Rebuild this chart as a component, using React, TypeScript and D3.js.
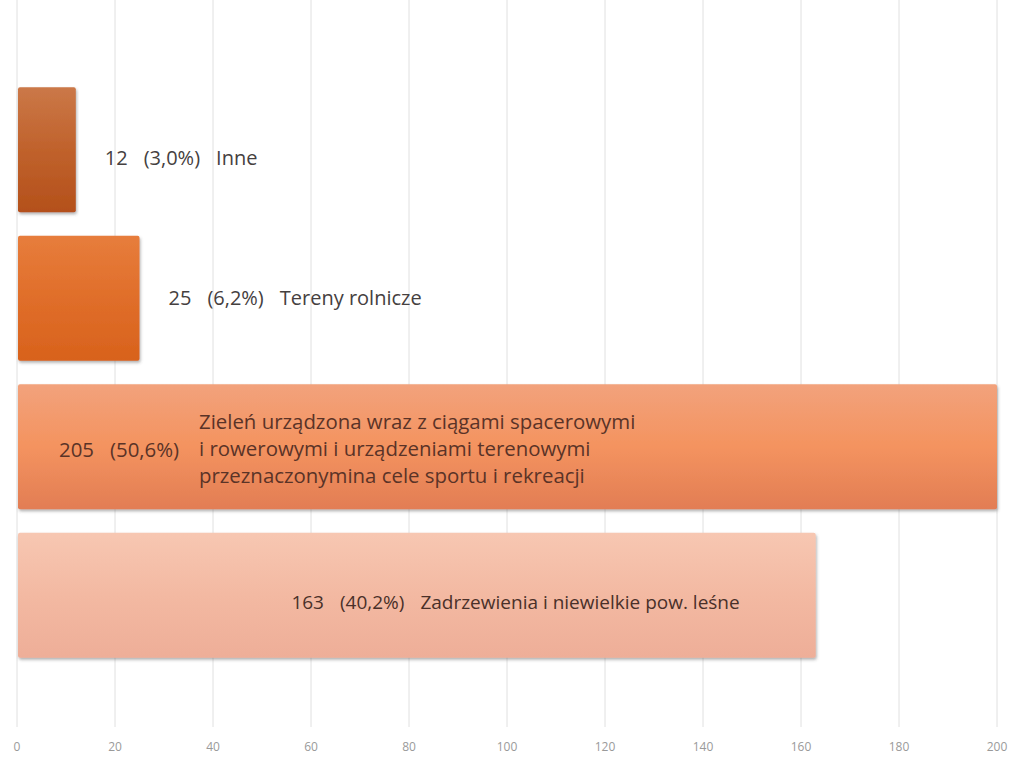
import React from "react";
import * as d3 from "d3";

const categories = ["Inne", "Tereny rolnicze", "Zieleń urządzona", "Zadrzewienia"];
const values = [12, 25, 205, 163];
const percents = ["(3,0%)", "(6,2%)", "(50,6%)", "(40,2%)"];
const labelLines = [
  ["Inne"],
  ["Tereny rolnicze"],
  [
    "Zieleń urządzona wraz z ciągami spacerowymi",
    "i rowerowymi i urządzeniami terenowymi",
    "przeznaczonymina cele sportu i rekreacji",
  ],
  ["Zadrzewienia i niewielkie pow. leśne"],
];
const xTicks = [0, 20, 40, 60, 80, 100, 120, 140, 160, 180, 200];

const gradTop = ["#cb7848", "#e77d3c", "#f2a27c", "#f7c7b2"];
const gradMid = ["#c0622c", "#e06e2a", "#f4935f", "#f3b9a2"];
const gradBot = ["#b4501b", "#d8621c", "#e27d54", "#eeae98"];
const textColors = ["#454040", "#454040", "#5a3327", "#4a3029"];
const fontSizes = [20, 20, 20.4, 19];
const textShift = [8, 0, 3, 7];

const W = 1030;
const H = 758;

export default function App() {
  const x = d3.scaleLinear().domain([0, 200]).range([17, 997]);
  const y = d3
    .scaleBand<string>()
    .domain(categories)
    .range([20, 725])
    .paddingInner(0.158)
    .paddingOuter(0.4525);
  const bw = y.bandwidth();
  const gap = 16;

  return (
    <svg
      width={W}
      height={H}
      style={{ position: "absolute", left: 0, top: 0, background: "#fff" }}
      fontFamily="'Open Sans', 'Noto Sans', sans-serif"
    >
      <defs>
        {categories.map((c, i) => (
          <linearGradient key={c} id={`g${i}`} x1="0" y1="0" x2="0" y2="1">
            <stop offset="0%" stopColor={gradTop[i]} />
            <stop offset="50%" stopColor={gradMid[i]} />
            <stop offset="100%" stopColor={gradBot[i]} />
          </linearGradient>
        ))}
        <filter id="sh" x="-5%" y="-5%" width="110%" height="120%">
          <feDropShadow dx="1" dy="2" stdDeviation="1.5" floodColor="#555" floodOpacity="0.45" />
        </filter>
      </defs>
      {xTicks.map((t) => (
        <g key={t}>
          <line x1={x(t)} x2={x(t)} y1={0} y2={727} stroke="#e0e0e0" strokeWidth={1} />
          <text x={x(t)} y={751} textAnchor="middle" fontSize={12} fill="#9a9a9a">
            {t}
          </text>
        </g>
      ))}
      {categories.map((c, i) => {
        const v = Math.min(values[i], 200);
        const y0 = y(c) as number;
        return (
          <rect
            key={c}
            x={x(0) + 1}
            y={y0}
            width={x(v) - x(0) - 1}
            height={bw}
            rx={2}
            fill={`url(#g${i})`}
            filter="url(#sh)"
          />
        );
      })}
      {categories.map((c, i) => {
        const cy = (y(c) as number) + bw / 2 + textShift[i];
        const v = values[i];
        const lines = labelLines[i];
        const fs = fontSizes[i];
        if (lines.length > 1) {
          const sx = x(0) + 42;
          return (
            <g key={c} fontSize={fs} fill={textColors[i]}>
              <text x={sx} y={cy} dy="0.35em">
                <tspan>{v}</tspan>
                <tspan dx={gap}>{percents[i]}</tspan>
              </text>
              {lines.map((l, k) => (
                <text key={k} x={sx + 140} y={cy + (k - 1) * 27 - 1} dy="0.35em">
                  {l}
                </text>
              ))}
            </g>
          );
        }
        const inside = v > 100;
        return (
          <text
            key={c}
            x={inside ? x(v) - 76 : x(v) + 29}
            y={cy}
            dy="0.35em"
            fontSize={fs}
            fill={textColors[i]}
            textAnchor={inside ? "end" : "start"}
          >
            <tspan>{v}</tspan>
            <tspan dx={gap}>{percents[i]}</tspan>
            <tspan dx={gap}>{lines[0]}</tspan>
          </text>
        );
      })}
    </svg>
  );
}
